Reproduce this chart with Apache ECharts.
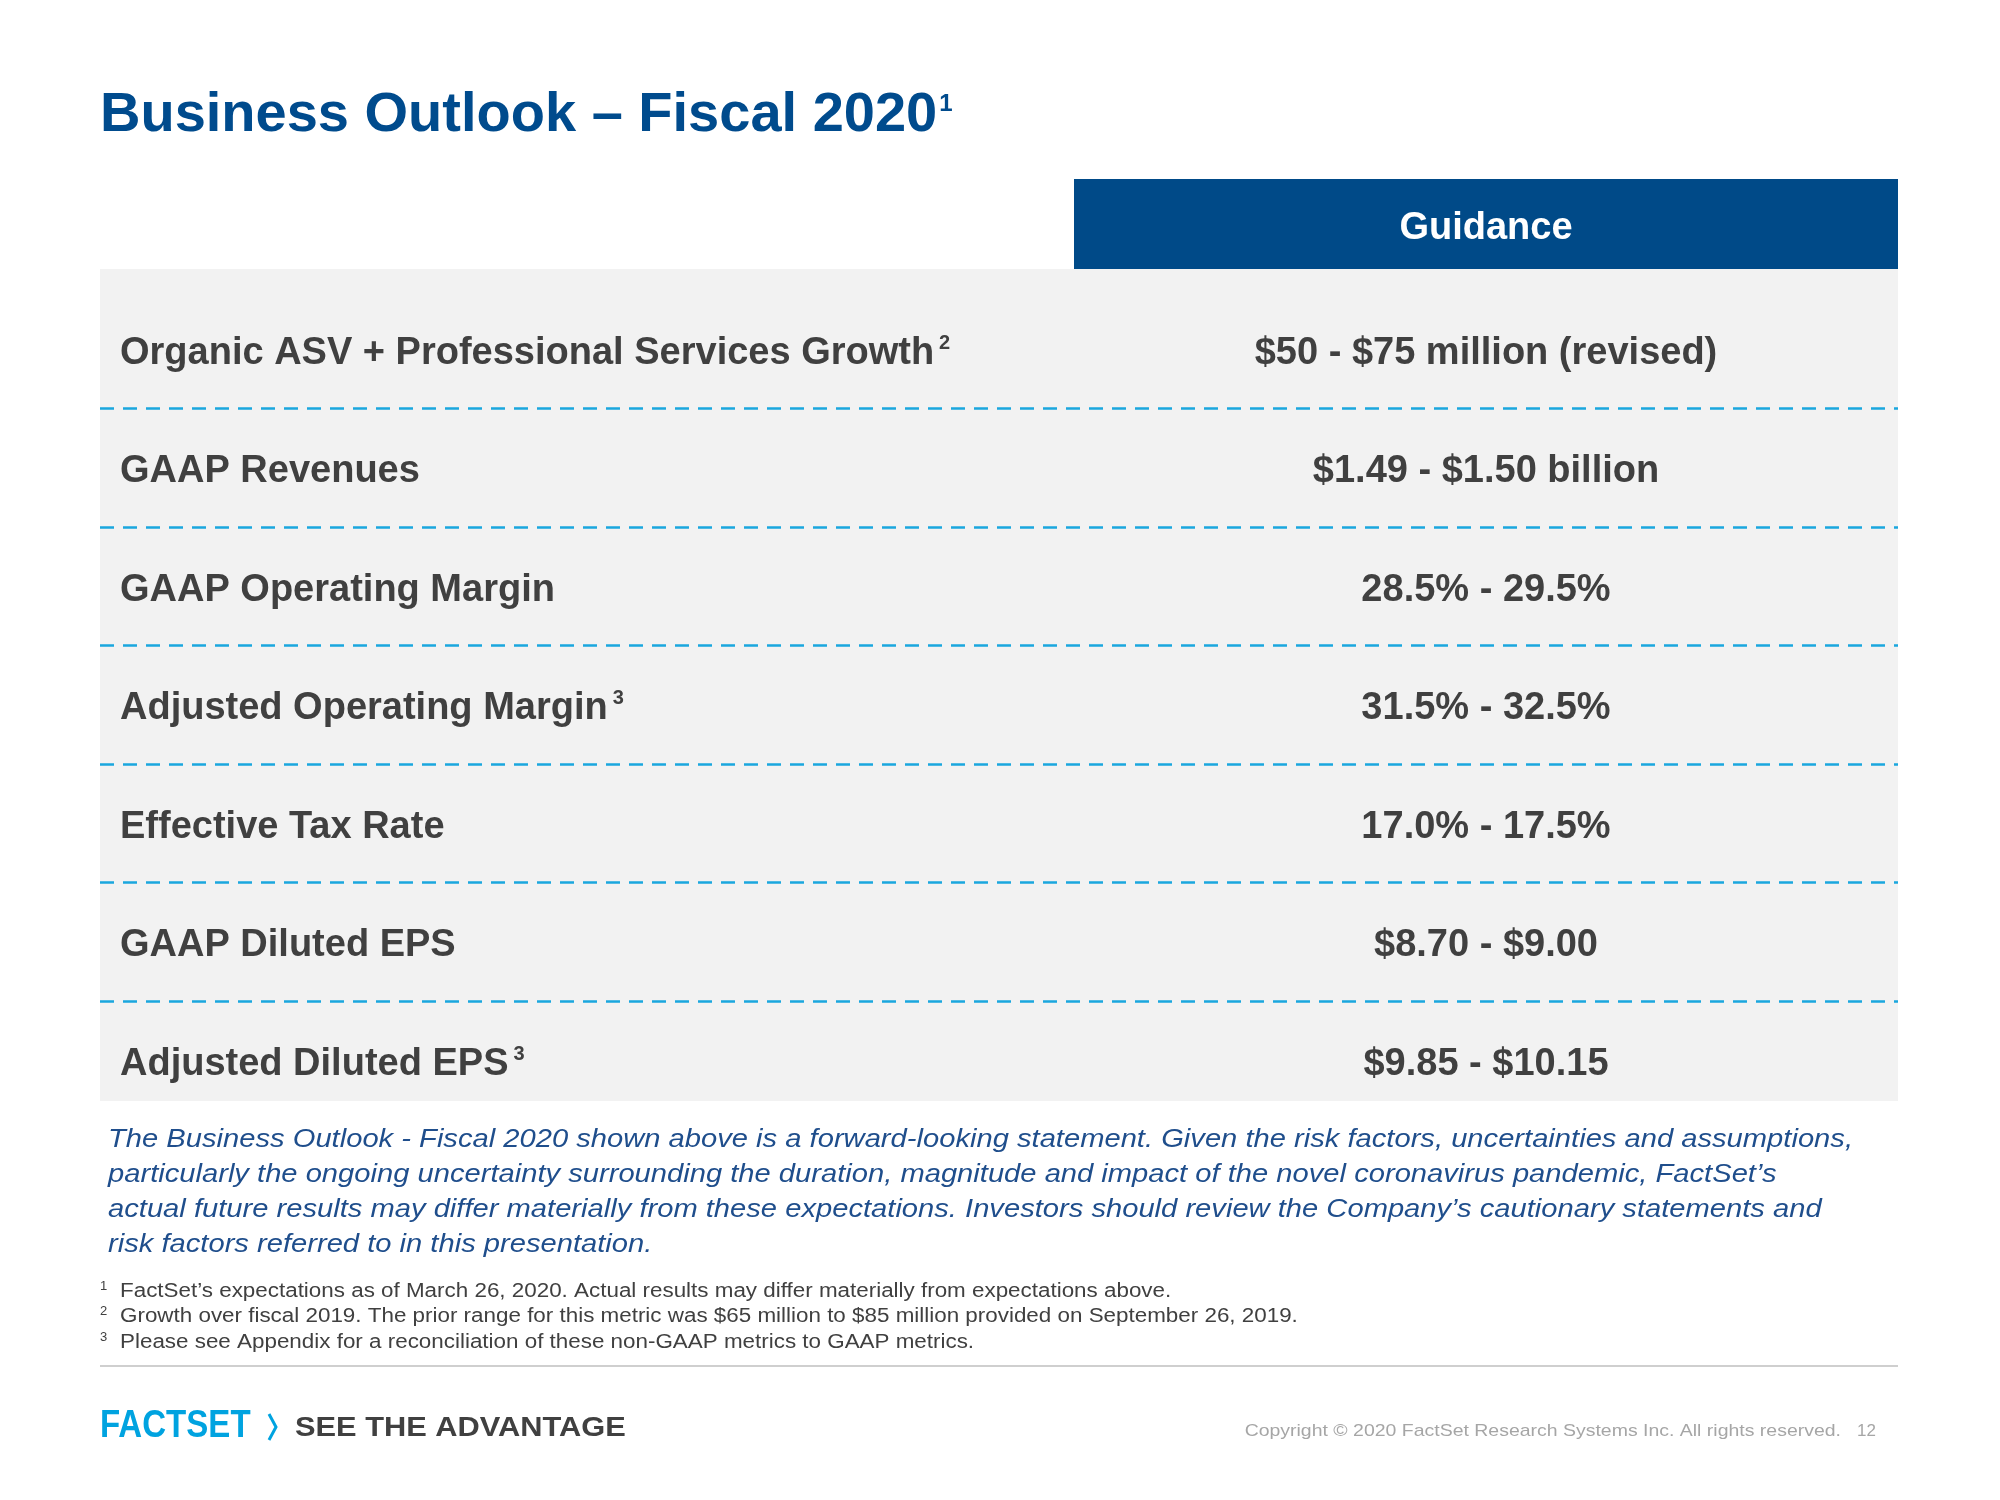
<!DOCTYPE html>
<html><head><meta charset="utf-8">
<script src="https://cdn.jsdelivr.net/npm/echarts@6/dist/echarts.min.js"></script>
<style>html,body{margin:0;padding:0;background:#fff}#c{width:2000px;height:1500px}</style>
</head><body><div id="c"></div>
<script>
// ---------- data ----------
const titleText = 'Business Outlook – Fiscal 2020';
const titleNote = '1';
const columnHeader = ['Guidance'];
const metrics = [
  'Organic ASV + Professional Services Growth',
  'GAAP Revenues',
  'GAAP Operating Margin',
  'Adjusted Operating Margin',
  'Effective Tax Rate',
  'GAAP Diluted EPS',
  'Adjusted Diluted EPS'
];
const metricNotes = ['2', '', '', '3', '', '', '3'];
const guidance = [
  '$50 - $75 million (revised)',
  '$1.49 - $1.50 billion',
  '28.5% - 29.5%',
  '31.5% - 32.5%',
  '17.0% - 17.5%',
  '$8.70 - $9.00',
  '$9.85 - $10.15'
];
const disclaimerLines = [
  'The Business Outlook - Fiscal 2020 shown above is a forward-looking statement. Given the risk factors, uncertainties and assumptions,',
  'particularly the ongoing uncertainty surrounding the duration, magnitude and impact of the novel coronavirus pandemic, FactSet’s',
  'actual future results may differ materially from these expectations. Investors should review the Company’s cautionary statements and',
  'risk factors referred to in this presentation.'
];
const footnoteMarks = ['1', '2', '3'];
const footnoteTexts = [
  'FactSet’s expectations as of March 26, 2020. Actual results may differ materially from expectations above.',
  'Growth over fiscal 2019. The prior range for this metric was $65 million to $85 million provided on September 26, 2019.',
  'Please see Appendix for a reconciliation of these non-GAAP metrics to GAAP metrics.'
];
const brand = 'FACTSET';
const tagline = 'SEE THE ADVANTAGE';
const copyright = 'Copyright © 2020 FactSet Research Systems Inc. All rights reserved.';
const pageNo = '12';

// ---------- styles ----------
const FONT = "'Liberation Sans', Arial, sans-serif";
const TEXT = '#404040';
const BLUE = '#004b8d';
const HEAD = '#004a88';
const DASH = '#1aa7de';

const chart = echarts.init(document.getElementById('c'), null, {renderer: 'canvas'});

const graphics = [
  {type: 'rect', x: 100, y: 269, shape: {width: 1798, height: 832}, style: {fill: '#f2f2f2'}, z: -10, silent: true},
  {type: 'text', x: 100, y: 116, style: {
    text: '{t|' + titleText + '}{s|' + titleNote + '}', verticalAlign: 'middle', align: 'left',
    rich: {
      t: {fontSize: 56, fontWeight: 'bold', fontFamily: FONT, fill: BLUE, color: BLUE, lineHeight: 56},
      s: {fontSize: 24, fontWeight: 'bold', fontFamily: FONT, fill: BLUE, color: BLUE, lineHeight: 24, verticalAlign: 'top', padding: [4, 0, 0, 2]}
    }
  }},
  {type: 'line', shape: {x1: 100, y1: 1366, x2: 1898, y2: 1366}, style: {stroke: '#bfbfbf', lineWidth: 1.5}},
  {type: 'text', x: 100, y: 1427, scaleX: 0.87, style: {text: brand, fontSize: 38, fontWeight: 'bold', fontFamily: FONT, fill: '#00a3e0', verticalAlign: 'middle', align: 'left'}},
  {type: 'polyline', shape: {points: [[269, 1414], [276, 1427], [269, 1440]]}, style: {stroke: '#00a3e0', lineWidth: 3, fill: null}},
  {type: 'text', x: 295, y: 1428, scaleX: 1.1, style: {text: tagline, fontSize: 28, fontWeight: 'bold', fontFamily: FONT, fill: TEXT, verticalAlign: 'middle', align: 'left'}},
  {type: 'text', x: 1841, y: 1431, scaleX: 1.145, style: {text: copyright, fontSize: 17, fontFamily: FONT, fill: '#a6a6a6', verticalAlign: 'middle', align: 'right'}},
  {type: 'text', x: 1876, y: 1431, style: {text: pageNo, fontSize: 17, fontFamily: FONT, fill: '#a6a6a6', verticalAlign: 'middle', align: 'right'}}
];
disclaimerLines.forEach((t, i) => {
  graphics.push({type: 'text', x: 108, y: 1140 + i * 35, scaleX: 1.166, style: {
    text: t, fontSize: 25, fontStyle: 'italic', fontFamily: FONT, fill: '#1f4e8c', verticalAlign: 'middle', align: 'left'}});
});
footnoteTexts.forEach((t, i) => {
  const y = 1291 + i * 25.5;
  graphics.push({type: 'text', x: 100, y: y - 5, style: {text: footnoteMarks[i], fontSize: 13, fontFamily: FONT, fill: TEXT, verticalAlign: 'middle', align: 'left'}});
  graphics.push({type: 'text', x: 120, y: y, scaleX: 1.12, style: {text: t, fontSize: 20, fontFamily: FONT, fill: TEXT, verticalAlign: 'middle', align: 'left'}});
});

const option = {
  animation: false,
  backgroundColor: '#ffffff',
  graphic: graphics,
  grid: [
    {left: 100, right: 102, top: 290, height: 829.5},
    {left: 1074, right: 102, top: 290, height: 829.5}
  ],
  xAxis: [
    {gridIndex: 0, type: 'value', min: 0, max: 1, show: false},
    {gridIndex: 1, type: 'category', position: 'top', data: columnHeader,
      axisLine: {show: false}, axisTick: {show: false}, splitLine: {show: false},
      axisLabel: {margin: 21, color: '#ffffff', fontSize: 38, fontWeight: 'bold', fontFamily: FONT,
        backgroundColor: HEAD, width: 824, padding: [31, 0, 21, 0], lineHeight: 38, align: 'center'}}
  ],
  yAxis: [
    {gridIndex: 0, type: 'category', inverse: true, data: metrics,
      axisLine: {show: false}, axisTick: {show: false},
      splitLine: {show: true, showMinLine: false, showMaxLine: false,
        lineStyle: {color: DASH, width: 2.5, type: [14, 9]}},
      axisLabel: {inside: true, margin: 20,
        formatter: (v, i) => '{m|' + v + '}' + (metricNotes[i] ? '{s|' + metricNotes[i] + '}' : ''),
        rich: {
          m: {fontSize: 38, fontWeight: 'bold', fontFamily: FONT, color: TEXT, lineHeight: 40, padding: [8, 0, 0, 0]},
          s: {fontSize: 20, fontWeight: 'bold', fontFamily: FONT, color: TEXT, lineHeight: 20, verticalAlign: 'top', padding: [4, 0, 0, 5]}
        }}},
    {gridIndex: 1, type: 'category', inverse: true, data: metrics, show: false}
  ],
  series: [{
    type: 'scatter', xAxisIndex: 1, yAxisIndex: 1, silent: true,
    symbolSize: 1, itemStyle: {color: 'rgba(0,0,0,0)', opacity: 1},
    data: guidance.map((g, i) => ({value: [0, i], name: g})),
    label: {show: true, position: 'inside', formatter: p => p.name, opacity: 1, offset: [0, 4],
      fontSize: 38, fontWeight: 'bold', fontFamily: FONT, color: TEXT}
  }]
};
chart.setOption(option);
</script>
</body></html>
